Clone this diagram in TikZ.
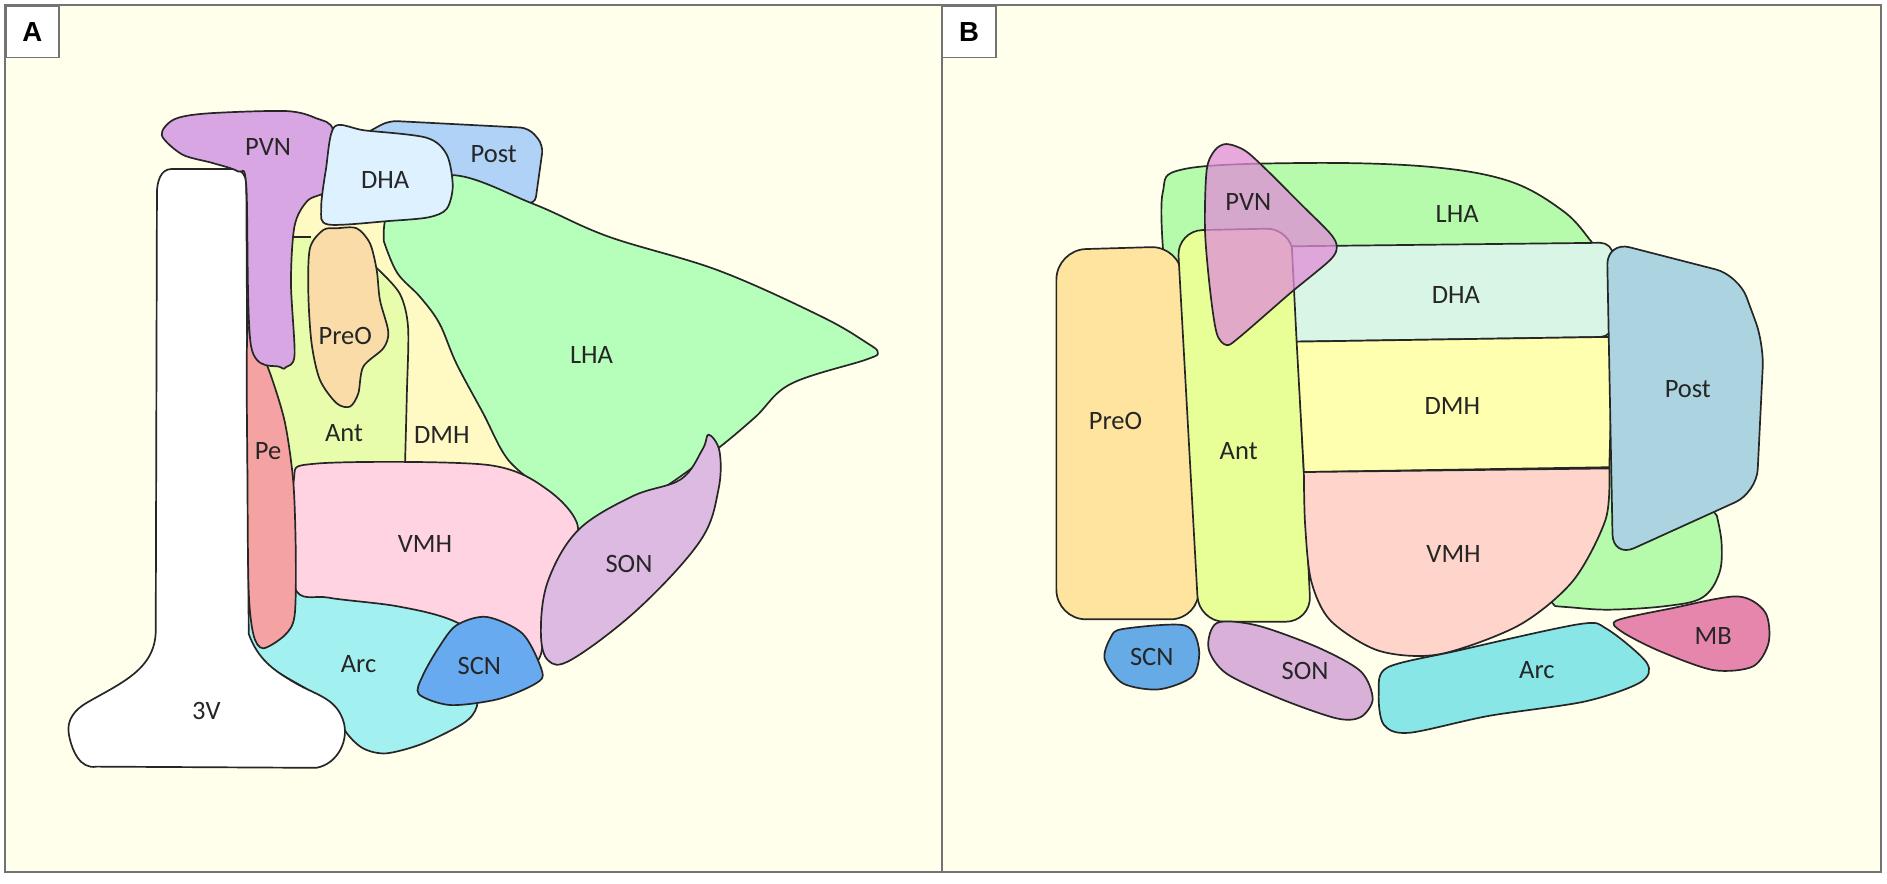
\documentclass[tikz,border=0pt]{standalone}
\usepackage{fontspec}
\setmainfont{Carlito}
\newfontfamily\panelfont{Liberation Sans}
\usepackage{xcolor}
\usepackage{tikz}
\usetikzlibrary{calc}

\definecolor{cream}{RGB}{255,255,236}
\definecolor{pvnA}{RGB}{217,166,228}
\definecolor{dhaA}{RGB}{221,241,255}
\definecolor{postA}{RGB}{176,210,246}
\definecolor{lhaA}{RGB}{181,255,187}
\definecolor{sonA}{RGB}{221,186,226}
\definecolor{vmhA}{RGB}{255,211,226}
\definecolor{dmhA}{RGB}{255,250,196}
\definecolor{antA}{RGB}{232,253,172}
\definecolor{preoA}{RGB}{250,220,168}
\definecolor{peA}{RGB}{245,162,162}
\definecolor{arcA}{RGB}{162,240,240}
\definecolor{scnA}{RGB}{104,170,240}
\definecolor{lhaB}{RGB}{182,250,172}
\definecolor{pvnB}{RGB}{225,140,215}
\definecolor{dhaB}{RGB}{216,245,230}
\definecolor{dmhB}{RGB}{255,255,176}
\definecolor{vmhB}{RGB}{255,212,202}
\definecolor{postB}{RGB}{172,212,224}
\definecolor{preoB}{RGB}{255,228,160}
\definecolor{antB}{RGB}{232,255,152}
\definecolor{mbB}{RGB}{231,134,172}
\definecolor{arcB}{RGB}{136,230,230}
\definecolor{sonB}{RGB}{216,176,216}
\definecolor{scnB}{RGB}{102,170,230}

\begin{document}
\begin{tikzpicture}[x=0.02cm, y=-0.02cm,
    region/.style={draw=black!85, line width=0.8pt, line join=round},
    lbl/.style={align=center, inner sep=0pt, font=\fontsize{12.5}{15}\selectfont, text=black!85},
    panel/.style={draw=black!55, line width=0.8pt, fill=cream},
    tag/.style={draw=black!55, fill=white, line width=0.8pt, minimum width=0.88cm, minimum height=0.86cm, font=\panelfont\bfseries\fontsize{13}{15}\selectfont}]

\useasboundingbox[fill=white] (0,0) rectangle (1563,731.4);
\draw[panel] (4,4) rectangle (780,722);
\draw[panel] (780,4) rectangle (1558,722);
\node[tag, anchor=north west] (tagA) at (4,4) {A};
\node[tag, anchor=north west] (tagB) at (780,4) {B};

% panel A
\fill[dmhA] (200,160) -- (250,150) -- (330,160) -- (380,160) -- (445,420) -- (300,405) -- (225,440) -- (200,400) -- cycle;
\fill[antA] (200,196.6) -- (262,196.6) -- (300,200) -- plot[smooth] coordinates {(312,222) (331,243) (338,271) (337,326) (335.5,384)} -- (335,420) -- (225,440) -- (200,400) -- cycle;
\draw[region] (236,196.6) -- (258,196.6);
\draw[region] plot[smooth] coordinates {(312,222) (331,243) (338,271) (337,326) (335.5,384)};
\draw[region, fill=preoA] plot[smooth cycle] coordinates {(278.8,189.1) (295.4,189.1) (306.4,201.5) (312,223.6) (314.7,248.5) (321.6,274.7) (317.5,288.5) (300.9,303.7) (296.8,325.8) (289.9,336.8) (278.8,334) (265,314.7) (258.1,284.4) (255.4,242.9) (256.7,205.7) (267.8,190.5)};
\draw[region, fill=postA, rounded corners=4pt] (300,112) -- (322,100) -- (438,106) -- (450,120) -- (443,170) -- (373,145) -- (330,150) -- cycle;
\draw[region, fill=lhaA] plot[smooth, tension=0.6] coordinates {(318,200) (325,170) (373,145) (442,169) (504,196) (595,224) (680,262) (718,284) (727,292) (717,298) (655,318) (625,346) (590,375) (540,410) (479,439)} -- plot[smooth, tension=0.6] coordinates {(450,405) (421,381) (400,342) (378,301) (364,268) (348,246) (329,226) (318,200)} -- cycle;
\draw[region, fill=arcA] plot[smooth cycle] coordinates {(250,470) (300,478) (360,490) (390,505) (395,560) (395,585) (384,599) (350,616) (320,624) (301,620) (287,607) (273,583) (232,558) (205,540) (212,490)};
\draw[region, fill=vmhA] plot[smooth cycle, tension=0.5] coordinates {(243,400) (262,384) (403,385) (454,406) (479,439) (454,486) (448,542) (433,546) (375,514) (328,502) (272,495) (244,486)};
\draw[region, fill=sonA] plot[smooth cycle, tension=0.6] coordinates {(587,360) (596,374) (595,406) (580,448) (529,504) (474,546) (454,547) (448,523) (454,481) (479,439) (524,411) (564,397) (582,372)};
\draw[region, fill=scnA] plot[smooth cycle] coordinates {(378,518) (403,511) (433,525) (449,556) (444,566) (413,579) (373,584) (347,575) (350,560) (363,537)};
\draw[region, fill=white] (130,160) to[out=90,in=180] (142,140) -- (194,140) to[out=0,in=90] (204,152) -- (206,525) to[out=-70,in=150] (245,566) to[out=-30,in=110] (284,596) to[out=-70,in=10] (262,636) -- (80,635) to[out=190,in=-80] (57,608) to[out=100,in=-150] (72,582) to[out=30,in=-90] (129,522) -- cycle;
\draw[region, fill=peA] plot[smooth cycle] coordinates {(205,275) (215,290) (224,310) (236,350) (243,400) (245,460) (244,510) (236,526) (218,537) (210,526) (206,490) (205,400)};
\draw[region, fill=pvnA] plot[smooth cycle, tension=0.5] coordinates {(134,112) (144,99) (171,94) (237,92) (262,98) (276,108) (275,154) (255,166) (244,187) (241,234) (244,294) (237,304) (232,304) (208,287) (204,154) (197,142) (176,135) (151,128)};
\draw[region, fill=dhaA] plot[smooth cycle, tension=0.5] coordinates {(277,105) (302,108) (353,114) (370,128) (375,154) (370,173) (355,180) (323,183) (272,186) (266,173) (270,140)};

\node[lbl] (pvnAt) at (222,122) {PVN};
\node[lbl] (dhaAt) at (319,149) {DHA};
\node[lbl] (postAt) at (409,128) {Post};
\node[lbl] (preoAt) at (286,278) {PreO};
\node[lbl] (lhaAt) at (490,294) {LHA};
\node[lbl] (antAt) at (285,359) {Ant};
\node[lbl] (dmhAt) at (366,360) {DMH};
\node[lbl] (peAt) at (222,374) {Pe};
\node[lbl] (vmhAt) at (352,451) {VMH};
\node[lbl] (sonAt) at (521,467) {SON};
\node[lbl] (arcAt) at (297,550) {Arc};
\node[lbl] (scnAt) at (397,552) {SCN};
\node[lbl] (vAt) at (171,589) {3V};

% panel B
\draw[region, fill=lhaB] plot[smooth, tension=0.6] coordinates {(964,215) (963,160) (981,140) (1081,135) (1182,138) (1250,150) (1295,175) (1318,200) (1326,212)} -- (1390,300) -- (1400,400) -- plot[smooth, tension=0.6] coordinates {(1422,427) (1426,450) (1424,475) (1410,495) (1380,502) (1333,505) (1300,503) (1288,502)} -- (1200,400) -- (1000,230) -- cycle;
\draw[region, fill=preoB, rounded corners=14pt] (875,207) -- (978,204) -- (994,513) -- (875,513) -- cycle;
\draw[region, fill=antB, rounded corners=12pt] (975,191) -- (1070,189) -- (1086,515) -- (993,515) -- cycle;
\draw[region, fill=dhaB, rounded corners=6pt] (1070,204) -- (1336,201) -- (1336,279) [sharp corners] -- (1074,283) -- cycle;
\draw[region, fill=dmhB] (1074,283) -- (1336,279) -- (1333,387) -- (1080,391) -- cycle;
\draw[region, fill=vmhB] (1080,391) -- plot[smooth] coordinates {(1333,388) (1330,430) (1303,481) (1258,518) (1192,542) (1142,539) (1102,514) (1086,481) (1081,434) (1080,392)} -- cycle;
\draw[region, fill=postB, rounded corners=11pt] (1331,200) -- (1440,228) -- (1461,285) -- (1455,408) -- (1336,462) -- cycle;
\draw[region, fill=pvnB, fill opacity=0.75] plot[smooth cycle, tension=0.5] coordinates {(1016,119.3) (1031.3,124.8) (1049.2,140.8) (1076.8,168.4) (1101.7,193.3) (1107.2,204.3) (1101.7,215.4) (1068.5,243) (1027.1,278.9) (1016,285.8) (1007.8,276.1) (1002.3,240.2) (998.1,190.5) (999.5,140.8) (1006.4,124.3)};
\draw[region, fill=mbB] plot[smooth cycle] coordinates {(1339,514) (1384,504) (1439,494) (1462,507) (1465,532) (1452,552) (1419,555) (1374,539) (1343,523)};
\draw[region, fill=arcB] plot[smooth cycle] coordinates {(1149,553) (1207,539) (1308,517) (1331,521) (1364,549) (1359,565) (1313,581) (1233,593) (1167,607) (1146,600) (1142,574)};
\draw[region, fill=sonB] plot[smooth cycle] coordinates {(1008,516) (1041,518) (1091,536) (1127,556) (1137,579) (1127,594) (1107,595) (1061,579) (1016,558) (1001,537)};
\draw[region, fill=scnB] plot[smooth cycle] coordinates {(930,521) (981,518) (993,537) (988,560) (960,571) (930,566) (915,546) (920,528)};

\node[lbl] (pvnBt) at (1034,167) {PVN};
\node[lbl] (lhaBt) at (1207,177) {LHA};
\node[lbl] (dhaBt) at (1206,244) {DHA};
\node[lbl] (dmhBt) at (1203,336) {DMH};
\node[lbl] (vmhBt) at (1204,459) {VMH};
\node[lbl] (preoBt) at (924,349) {PreO};
\node[lbl] (antBt) at (1026,374) {Ant};
\node[lbl] (postBt) at (1398,322) {Post};
\node[lbl] (scnBt) at (954,544) {SCN};
\node[lbl] (sonBt) at (1081,556) {SON};
\node[lbl] (arcBt) at (1273,555) {Arc};
\node[lbl] (mbBt) at (1419,527) {MB};
\end{tikzpicture}
\end{document}
